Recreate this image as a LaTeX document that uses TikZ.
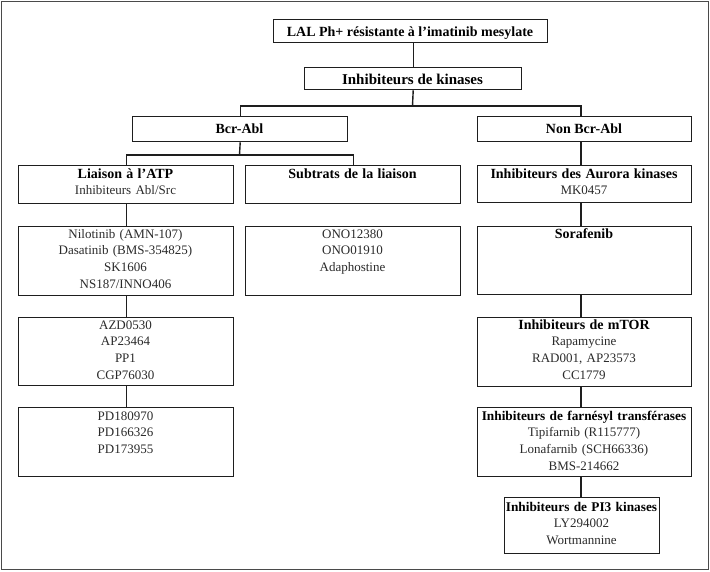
\documentclass[tikz,border=0pt]{standalone}
\usepackage{fontspec}
\setmainfont{Liberation Serif}
\definecolor{linec}{HTML}{1E1E1E}
\definecolor{bodyc}{HTML}{2A2A2A}
\definecolor{framec}{HTML}{4A4A4A}
\newcommand\mybodyfont{\fontsize{13}{16.7}\selectfont}
\newcommand\mytitlefont{\fontsize{14}{16.7}\selectfont\bfseries}
\newcommand\boxhd[1]{{\mytitlefont\color{black}#1}}
\newcommand\boxhdsmall[1]{{\fontsize{13.3}{16.7}\selectfont\bfseries\color{black}#1}}
\begin{document}
\begin{tikzpicture}[x=1pt,y=-1pt,
  box/.style={draw=linec, line width=1.4pt, inner sep=0pt, anchor=north west},
  conn/.style={draw=linec, line width=1.4pt},
  lbl/.style={inner sep=0pt, anchor=base, align=center, text width=240pt, font=\mybodyfont, text=bodyc},
  ttl/.style={inner sep=0pt, anchor=base, font=\mytitlefont, text=black}]
\useasboundingbox (0,0) rectangle (710,571);
\node[draw=framec, line width=1.4pt, inner sep=0pt, anchor=north west, minimum width=707pt, minimum height=568pt] (frame) at (1,1) {};

% boxes
\node[box, minimum width=274pt, minimum height=23pt] (top) at (273,19) {};
\node[box, minimum width=217pt, minimum height=22pt] (kin) at (304,67) {};
\node[box, minimum width=215pt, minimum height=25pt] (bcr) at (132,116) {};
\node[box, minimum width=214pt, minimum height=25pt] (nonbcr) at (477,116) {};
\node[box, minimum width=215pt, minimum height=38pt] (liaison) at (18,165) {};
\node[box, minimum width=215pt, minimum height=38pt] (subtrats) at (245,165) {};
\node[box, minimum width=214pt, minimum height=37pt] (aurora) at (477,165) {};
\node[box, minimum width=215pt, minimum height=69pt] (nilo) at (18,226) {};
\node[box, minimum width=215pt, minimum height=69pt] (ono) at (245,226) {};
\node[box, minimum width=214pt, minimum height=68pt] (sora) at (477,226) {};
\node[box, minimum width=215pt, minimum height=68pt] (azd) at (18,317) {};
\node[box, minimum width=214pt, minimum height=69pt] (mtor) at (477,317) {};
\node[box, minimum width=215pt, minimum height=69pt] (pd) at (18,407) {};
\node[box, minimum width=214pt, minimum height=69pt] (farn) at (477,407) {};
\node[box, minimum width=155pt, minimum height=56pt] (pi3) at (504,497) {};

% texts
\node[ttl] (ttop) at (410,36) {LAL Ph+ résistante à l'imatinib mesylate};
\node[ttl, font=\fontsize{15}{16.7}\selectfont\bfseries] (tkin) at (412.5,84) {Inhibiteurs de kinases};
\node[ttl] (tbcr) at (239.5,133) {Bcr-Abl};
\node[ttl] (tnonbcr) at (584,133) {Non Bcr-Abl};
\node[lbl] (tliaison) at (125.5,178) {\boxhd{Liaison à l'ATP}\\Inhibiteurs Abl/Src};
\node[lbl] (tsubtrats) at (352.5,178) {\boxhd{Subtrats de la liaison}};
\node[lbl] (taurora) at (584,178) {\boxhd{Inhibiteurs des Aurora kinases}\\MK0457};
\node[lbl] (tnilo) at (125.5,238) {Nilotinib (AMN-107)\\Dasatinib (BMS-354825)\\SK1606\\NS187/INNO406};
\node[lbl] (tono) at (352.5,238) {ONO12380\\ONO01910\\Adaphostine};
\node[lbl] (tsora) at (584,238) {\boxhd{Sorafenib}};
\node[lbl] (tazd) at (125.5,329) {AZD0530\\AP23464\\PP1\\CGP76030};
\node[lbl] (tmtor) at (584,329) {\boxhd{Inhibiteurs de mTOR}\\Rapamycine\\RAD001, AP23573\\CC1779};
\node[lbl] (tpd) at (125.5,420) {PD180970\\PD166326\\PD173955};
\node[lbl] (tfarn) at (584,420) {\boxhdsmall{Inhibiteurs de farnésyl transférases}\\Tipifarnib (R115777)\\Lonafarnib (SCH66336)\\BMS-214662};
\node[lbl] (tpi3) at (581.5,511) {\boxhdsmall{Inhibiteurs de PI3 kinases}\\LY294002\\Wortmannine};

% connectors
\coordinate (k1) at (412.5,106);
\coordinate (rc) at (581,0);
\coordinate (b1) at (239.5,155);
\draw[conn] (top.south -| kin.north) -- (kin.north);
\draw[conn] (kin.south) -- (k1);
\draw[conn] (k1) -| (bcr.north);
\draw[conn] (k1) -| (nonbcr.north -| rc);
\draw[conn] (bcr.south) -- (b1);
\draw[conn] (b1) -| (liaison.north);
\draw[conn] (b1) -| (subtrats.north);
\draw[conn] (liaison.south) -- (nilo.north);
\draw[conn] (nilo.south) -- (azd.north);
\draw[conn] (azd.south) -- (pd.north);
\draw[conn] (nonbcr.south -| rc) -- (aurora.north -| rc);
\draw[conn] (aurora.south -| rc) -- (sora.north -| rc);
\draw[conn] (sora.south -| rc) -- (mtor.north -| rc);
\draw[conn] (mtor.south -| rc) -- (farn.north -| rc);
\draw[conn] (farn.south -| rc) -- (pi3.north -| rc);
\end{tikzpicture}
\end{document}
